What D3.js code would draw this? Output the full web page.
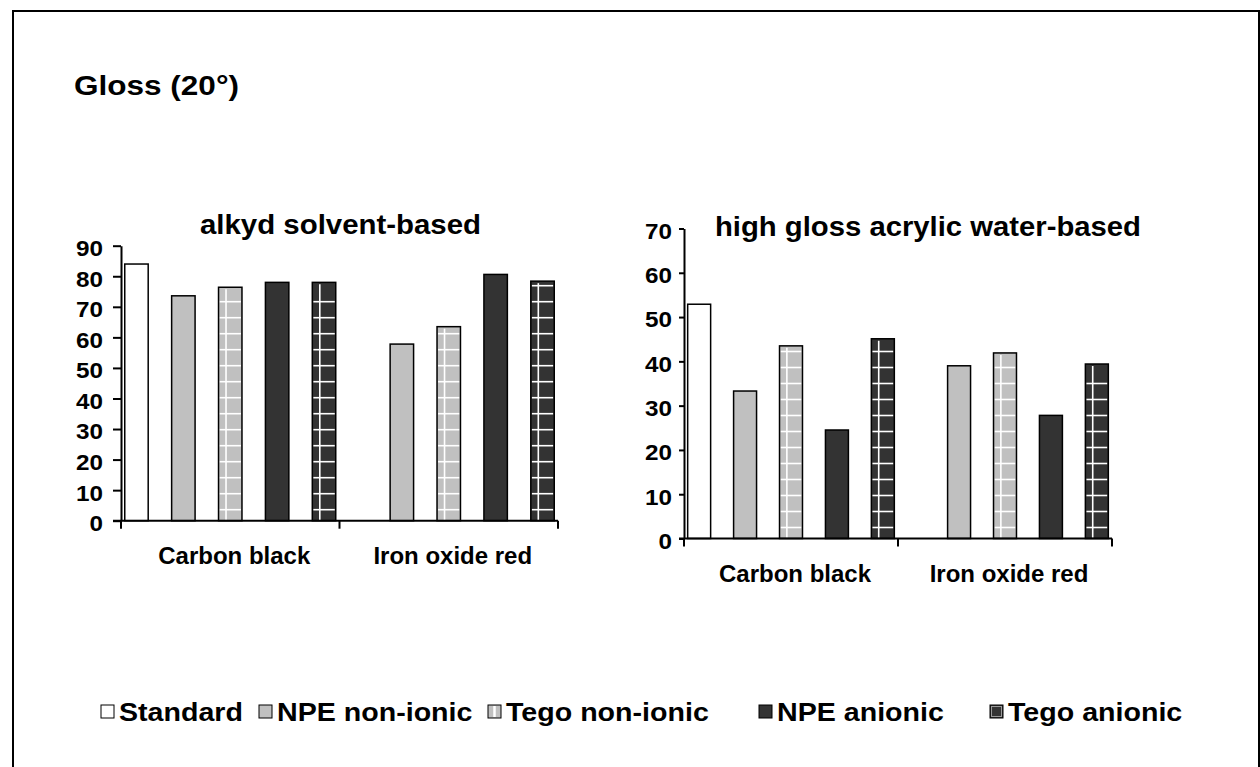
<!DOCTYPE html>
<html>
<head>
<meta charset="utf-8">
<script src="https://cdn.jsdelivr.net/npm/d3@7"></script>
<style>
  html, body { margin: 0; padding: 0; background: #fff; }
  svg { display: block; }
  text { font-family: "Liberation Sans", Arial, Helvetica, sans-serif; font-weight: bold; fill: #000; }
</style>
</head>
<body>
<svg id="chart" width="1260" height="767"></svg>
<script>
// ---- data ----
const categories = ["Carbon black", "Iron oxide red"];
const seriesNames = ["Standard", "NPE non-ionic", "Tego non-ionic", "NPE anionic", "Tego anionic"];

// alkyd solvent-based, gloss at 20°
const alkydStandard     = [84.0, null];
const alkydNpeNonionic  = [73.6, 57.8];
const alkydTegoNonionic = [76.4, 63.5];
const alkydNpeAnionic   = [78.0, 80.6];
const alkydTegoAnionic  = [78.0, 78.4];
const alkydTicks = [0, 10, 20, 30, 40, 50, 60, 70, 80, 90];

// high gloss acrylic water-based, gloss at 20°
const acrylicStandard     = [52.9, null];
const acrylicNpeNonionic  = [33.3, 39.0];
const acrylicTegoNonionic = [43.5, 41.9];
const acrylicNpeAnionic   = [24.5, 27.8];
const acrylicTegoAnionic  = [45.1, 39.4];
const acrylicTicks = [0, 10, 20, 30, 40, 50, 60, 70];

// ---- styling ----
const styles = {
  "Standard":       { fill: "#ffffff", grid: false },
  "NPE non-ionic":  { fill: "#c0c0c0", grid: false },
  "Tego non-ionic": { fill: "#c0c0c0", grid: true },
  "NPE anionic":    { fill: "#333333", grid: false },
  "Tego anionic":   { fill: "#333333", grid: true }
};

const svg = d3.select("#chart");

// outer frame
svg.append("rect")
  .attr("x", 13).attr("y", 11).attr("width", 1246).attr("height", 800)
  .attr("fill", "none").attr("stroke", "#000").attr("stroke-width", 2);

// main heading
svg.append("text")
  .attr("x", 74).attr("y", 95)
  .attr("font-size", 27)
  .attr("textLength", 165).attr("lengthAdjust", "spacingAndGlyphs")
  .text("Gloss (20°)");

function drawPanel(cfg) {
  const g = svg.append("g");
  const x = d3.scaleBand().domain(categories).range([cfg.left, cfg.right]);
  const xs = d3.scaleBand().domain(seriesNames)
    .range([0, x.bandwidth()]).paddingInner(0.5).paddingOuter(0.08);
  const y = d3.scaleLinear().domain([0, d3.max(cfg.ticks)]).range([cfg.bottom, cfg.top]);

  // bars
  const barG = g.append("g");
  cfg.series.forEach((vals, si) => {
    const name = seriesNames[si];
    const st = styles[name];
    vals.forEach((v, ci) => {
      if (v == null) return;
      const bx = x(categories[ci]) + xs(name);
      const bw = xs.bandwidth();
      const by = y(v);
      const y0 = y(0);
      barG.append("rect")
        .attr("x", bx).attr("y", by).attr("width", bw).attr("height", y0 - by)
        .attr("fill", st.fill);
      if (st.grid) {
        const gx = bx + bw * 0.32;
        barG.append("line")
          .attr("x1", gx).attr("x2", gx).attr("y1", by + 2).attr("y2", y0)
          .attr("stroke", "#fff").attr("stroke-width", 1.6);
        for (let yy = y0 - 11; yy > by + 4; yy -= 16) {
          barG.append("line")
            .attr("x1", bx + 1).attr("x2", bx + bw - 1).attr("y1", yy).attr("y2", yy)
            .attr("stroke", "#fff").attr("stroke-width", 1.6);
        }
      }
      barG.append("rect")
        .attr("x", bx).attr("y", by).attr("width", bw).attr("height", y0 - by)
        .attr("fill", "none").attr("stroke", "#000").attr("stroke-width", 1.5);
    });
  });

  // y axis
  const yAxis = d3.axisLeft(y)
    .tickValues(cfg.ticks).tickFormat(d3.format("d"))
    .tickSize(cfg.tickLen).tickSizeOuter(0).tickPadding(cfg.tickPad);
  const ya = g.append("g").attr("transform", `translate(${cfg.left},0)`).call(yAxis);
  ya.select(".domain").attr("stroke", "#000").attr("stroke-width", 2);
  ya.selectAll(".tick line").attr("stroke", "#000").attr("stroke-width", 2);
  ya.selectAll(".tick text")
    .attr("font-size", 22).attr("font-family", null).attr("dy", "0.45em")
    .attr("textLength", d => (d >= 10 ? 27 : 13.5))
    .attr("lengthAdjust", "spacingAndGlyphs");

  // x axis line with boundary ticks
  const bounds = [cfg.left].concat(categories.map(c => x(c) + x.bandwidth()));
  g.append("line")
    .attr("x1", cfg.left - cfg.tickLen).attr("x2", cfg.right)
    .attr("y1", y(0)).attr("y2", y(0))
    .attr("stroke", "#000").attr("stroke-width", 2);
  g.selectAll(".xb").data(bounds).enter().append("line")
    .attr("x1", d => d).attr("x2", d => d)
    .attr("y1", y(0)).attr("y2", y(0) + 8)
    .attr("stroke", "#000").attr("stroke-width", 2);
  g.selectAll(".xl").data(categories).enter().append("text")
    .attr("x", d => x(d) + x.bandwidth() / 2 + 4)
    .attr("y", cfg.labelY)
    .attr("text-anchor", "middle")
    .attr("font-size", 24)
    .text(d => d);

  // panel title
  g.append("text")
    .attr("x", cfg.titleX).attr("y", cfg.titleY)
    .attr("font-size", 28)
    .attr("textLength", cfg.titleLen).attr("lengthAdjust", "spacingAndGlyphs")
    .text(cfg.title);
}

drawPanel({
  title: "alkyd solvent-based", titleX: 200, titleY: 234, titleLen: 281,
  left: 121, right: 558, top: 245.7, bottom: 520.7,
  ticks: alkydTicks, tickLen: 8, tickPad: 10, labelY: 564,
  series: [alkydStandard, alkydNpeNonionic, alkydTegoNonionic, alkydNpeAnionic, alkydTegoAnionic]
});

drawPanel({
  title: "high gloss acrylic water-based", titleX: 715, titleY: 236, titleLen: 426,
  left: 684, right: 1112, top: 228.5, bottom: 538.5,
  ticks: acrylicTicks, tickLen: 5, tickPad: 7, labelY: 582,
  series: [acrylicStandard, acrylicNpeNonionic, acrylicTegoNonionic, acrylicNpeAnionic, acrylicTegoAnionic]
});

// ---- legend ----
// entries are set in a slightly widened bold face
const legendX = [101, 259, 488, 759, 990];
const legendFont = 26;
const legendStretch = 1.1;
const legendBaseline = 721;
const lg = svg.append("g");
seriesNames.forEach((name, i) => {
  const st = styles[name];
  const mx = legendX[i], my = legendBaseline - 16, ms = 13;
  lg.append("rect").attr("x", mx).attr("y", my).attr("width", ms).attr("height", ms)
    .attr("fill", st.fill).attr("stroke", "#000").attr("stroke-width", 1);
  if (name === "Tego non-ionic") {
    lg.append("line").attr("x1", mx + ms / 2).attr("x2", mx + ms / 2)
      .attr("y1", my + 1).attr("y2", my + ms - 1)
      .attr("stroke", "#fff").attr("stroke-width", 2.5);
  }
  if (name === "Tego anionic") {
    lg.append("rect").attr("x", mx + 1.5).attr("y", my + 1.5)
      .attr("width", ms - 3).attr("height", ms - 3)
      .attr("fill", "none").attr("stroke", "#999").attr("stroke-width", 1);
  }
  const t = lg.append("text")
    .attr("x", mx + ms + 5).attr("y", legendBaseline)
    .attr("font-size", legendFont)
    .text(name);
  const natural = t.node().getComputedTextLength();
  t.attr("textLength", natural * legendStretch).attr("lengthAdjust", "spacingAndGlyphs");
});
</script>
</body>
</html>
